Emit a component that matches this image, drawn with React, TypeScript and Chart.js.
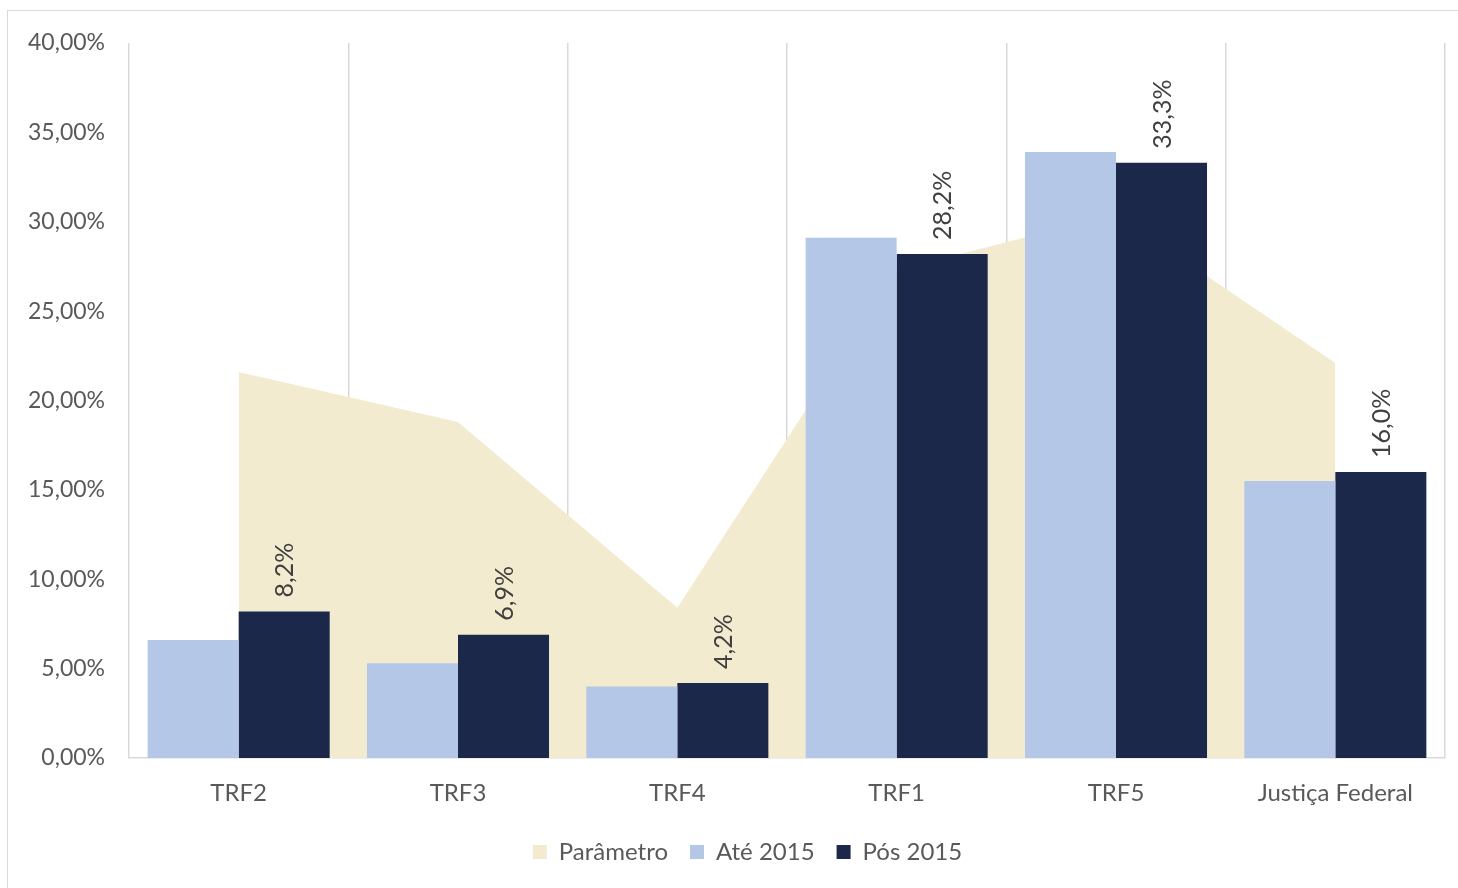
import React, { useEffect, useRef } from "react";
import { Chart, registerables } from "chart.js";

Chart.register(...registerables);

const categories = ["TRF2", "TRF3", "TRF4", "TRF1", "TRF5", "Justiça Federal"];
const parametro = [21.6, 18.8, 8.4, 27.3, 30.4, 22.1];
const ate2015 = [6.6, 5.3, 4.0, 29.1, 33.9, 15.5];
const pos2015 = [8.2, 6.9, 4.2, 28.2, 33.3, 16.0];
const yTicks = [0, 5, 10, 15, 20, 25, 30, 35, 40];

const FONT = "Lato, 'Open Sans', sans-serif";

const fmtTick = (v: number) => v.toFixed(2).replace(".", ",") + "%";
const fmtLabel = (v: number) => v.toFixed(1).replace(".", ",") + "%";

const labelPlugin = {
  id: "barLabels",
  afterLayout(chart: any) {
    const lg = chart.legend;
    if (lg) {
      lg.left += 21;
      lg.right += 21;
    }
  },
  afterDatasetsDraw(chart: any) {
    const ctx = chart.ctx;
    const meta = chart.getDatasetMeta(2);
    ctx.save();
    ctx.font = `25px ${FONT}`;
    ctx.fillStyle = "#404040";
    ctx.textAlign = "left";
    ctx.textBaseline = "middle";
    meta.data.forEach((bar: any, i: number) => {
      ctx.save();
      ctx.translate(bar.x + 1, bar.y - 14);
      ctx.rotate(-Math.PI / 2);
      ctx.fillText(fmtLabel(pos2015[i]), 0, 0);
      ctx.restore();
    });
    ctx.restore();
  },
};

export default function App() {
  const ref = useRef<HTMLCanvasElement>(null);
  useEffect(() => {
    if (!ref.current) return;
    const chart = new Chart(ref.current, {
      type: "bar",
      data: {
        labels: categories,
        datasets: [
          {
            type: "line",
            label: "Parâmetro",
            data: parametro,
            fill: "origin",
            backgroundColor: "#F3EBCF",
            borderColor: "#F3EBCF",
            borderWidth: 0,
            pointRadius: 0,
            tension: 0,
            order: 2,
          } as any,
          {
            label: "Até 2015",
            data: ate2015,
            backgroundColor: "#B4C7E7",
            borderWidth: 0,
            categoryPercentage: 0.83,
            barPercentage: 1,
            order: 1,
          },
          {
            label: "Pós 2015",
            data: pos2015,
            backgroundColor: "#1B2849",
            borderWidth: 0,
            categoryPercentage: 0.83,
            barPercentage: 1,
            order: 1,
          },
        ],
      },
      options: {
        responsive: false,
        animation: false,
        layout: { padding: { top: 32, right: 13, left: 0, bottom: 14 } },
        plugins: {
          tooltip: { enabled: false },
          legend: {
            position: "bottom",
            labels: {
              boxWidth: 14,
              boxHeight: 14,
              padding: 22,
              color: "#595959",
              font: { family: FONT, size: 24 },
              sort: (a: any, b: any) => a.datasetIndex - b.datasetIndex,
              generateLabels: (c: any) =>
                c.data.datasets.map((ds: any, i: number) => ({
                  text: ds.label,
                  fillStyle: ds.backgroundColor,
                  strokeStyle: ds.backgroundColor,
                  lineWidth: 0,
                  fontColor: "#595959",
                  datasetIndex: i,
                  hidden: false,
                })),
            },
          },
        },
        scales: {
          x: {
            offset: true,
            grid: {
              display: true,
              offset: true,
              color: "#D9D9D9",
              lineWidth: 1.5,
              drawTicks: false,
            },
            border: { display: true, color: "#D9D9D9", width: 1.5 },
            ticks: {
              color: "#595959",
              font: { family: FONT, size: 24 },
              padding: 21,
            },
            afterFit: (s: any) => {
              s.height = 60;
            },
          },
          y: {
            min: 0,
            max: 40,
            afterBuildTicks: (s: any) => {
              s.ticks = yTicks.map((v) => ({ value: v }));
            },
            grid: { display: false, drawTicks: true, tickLength: 7 },
            border: { display: false },
            ticks: {
              color: "#595959",
              font: { family: FONT, size: 23 },
              padding: 17,
              callback: (v: any) => fmtTick(Number(v)),
            },
            afterFit: (s: any) => {
              s.width = 121;
            },
          },
        },
      },
      plugins: [labelPlugin],
    });
    return () => chart.destroy();
  }, []);

  return (
    <div
      style={{
        position: "fixed",
        left: 7,
        top: 10,
        width: 1450,
        height: 877,
        border: "1.5px solid #D9D9D9",
        background: "#fff",
      }}
    >
      <canvas ref={ref} width={1450} height={877} style={{ display: "block" }} />
    </div>
  );
}
